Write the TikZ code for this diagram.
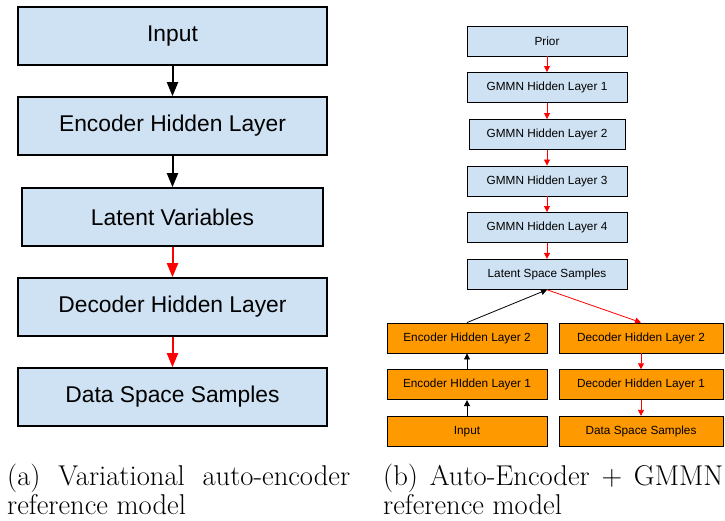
\documentclass[tikz,border=0pt]{standalone}
\usepackage{fontspec}
\newfontfamily\boxfont{Liberation Sans}
\usetikzlibrary{arrows.meta}
\definecolor{boxblue}{HTML}{CFE2F3}
\definecolor{boxorange}{HTML}{FF9900}

\begin{document}
\begin{tikzpicture}[x=1pt,y=-1pt,
        bigbox/.style={draw,line width=1.6pt,fill=boxblue,minimum width=309pt,minimum height=58pt,inner sep=0pt,font=\boxfont\fontsize{22.8}{26}\selectfont},
        smallbox/.style={draw,line width=0.9pt,fill=boxblue,minimum width=160pt,minimum height=30pt,inner sep=0pt,font=\boxfont\fontsize{11.8}{14}\selectfont},
        orangebox/.style={smallbox,fill=boxorange},
        bigarrow/.style={-{Triangle[length=14pt,width=11pt]},line width=2pt},
        smallarrow/.style={-{Triangle[length=6pt,width=6pt]},line width=0.8pt},
        caption/.style={anchor=base west,inner sep=0pt,font=\fontsize{28.6}{32}\selectfont}]
        \useasboundingbox (0,0) rectangle (725,521);
        % (a) variational auto-encoder
        \node [bigbox] (vaein) at (172.5,36) {Input};
        \node [bigbox] (vaeenc) at (172.5,126) {Encoder Hidden Layer};
        \node [bigbox,minimum width=301pt] (vaelat) at (172.5,217) {Latent Variables};
        \node [bigbox] (vaedec) at (172.5,307) {Decoder Hidden Layer};
        \node [bigbox] (vaedata) at (172.5,397) {Data Space Samples};
        \draw[bigarrow] (vaein.south) -- (vaeenc.north);
        \draw[bigarrow] (vaeenc.south) -- (vaelat.north);
        \draw[bigarrow,red] (vaelat.south) -- (vaedec.north);
        \draw[bigarrow,red] (vaedec.south) -- (vaedata.north);
        \node [caption] (capa1) at (7,485) {\makebox[343pt][s]{(a) Variational auto-encoder}};
        \node [caption] (capa2) at (7,514.5) {reference model};
        % (b) auto-encoder + GMMN
        \node [smallbox] (prior) at (547,41) {Prior};
        \node [smallbox] (gmmn1) at (547,87.5) {GMMN Hidden Layer 1};
        \node [smallbox,minimum width=156pt] (gmmn2) at (547,134.5) {GMMN Hidden Layer 2};
        \node [smallbox] (gmmn3) at (547,181) {GMMN Hidden Layer 3};
        \node [smallbox] (gmmn4) at (547,227.5) {GMMN Hidden Layer 4};
        \node [smallbox] (latent) at (547,274.3) {Latent Space Samples};
        \node [orangebox] (enc2) at (467,338) {Encoder Hidden Layer 2};
        \node [orangebox] (enc1) at (467,384.7) {Encoder HIdden Layer 1};
        \node [orangebox] (input) at (467,431.3) {Input};
        \node [orangebox,minimum width=164pt] (dec2) at (641,338) {Decoder Hidden Layer 2};
        \node [orangebox,minimum width=164pt] (dec1) at (641,384.7) {Decoder Hidden Layer 1};
        \node [orangebox,minimum width=164pt] (data) at (641,431.3) {Data Space Samples};
        \draw[smallarrow,red] (prior.south) -- (gmmn1.north);
        \draw[smallarrow,red] (gmmn1.south) -- (gmmn2.north);
        \draw[smallarrow,red] (gmmn2.south) -- (gmmn3.north);
        \draw[smallarrow,red] (gmmn3.south) -- (gmmn4.north);
        \draw[smallarrow,red] (gmmn4.south) -- (latent.north);
        \draw[smallarrow] (input.north) -- (enc1.south);
        \draw[smallarrow] (enc1.north) -- (enc2.south);
        \draw[smallarrow] (enc2.north) -- (latent.south);
        \draw[smallarrow,red] (latent.south) -- (dec2.north);
        \draw[smallarrow,red] (dec2.south) -- (dec1.north);
        \draw[smallarrow,red] (dec1.south) -- (data.north);
        \node [caption] (capb1) at (383,485) {\makebox[340pt][s]{(b) Auto-Encoder + GMMN}};
        \node [caption] (capb2) at (383,514.5) {reference model};
\end{tikzpicture}
\end{document}
